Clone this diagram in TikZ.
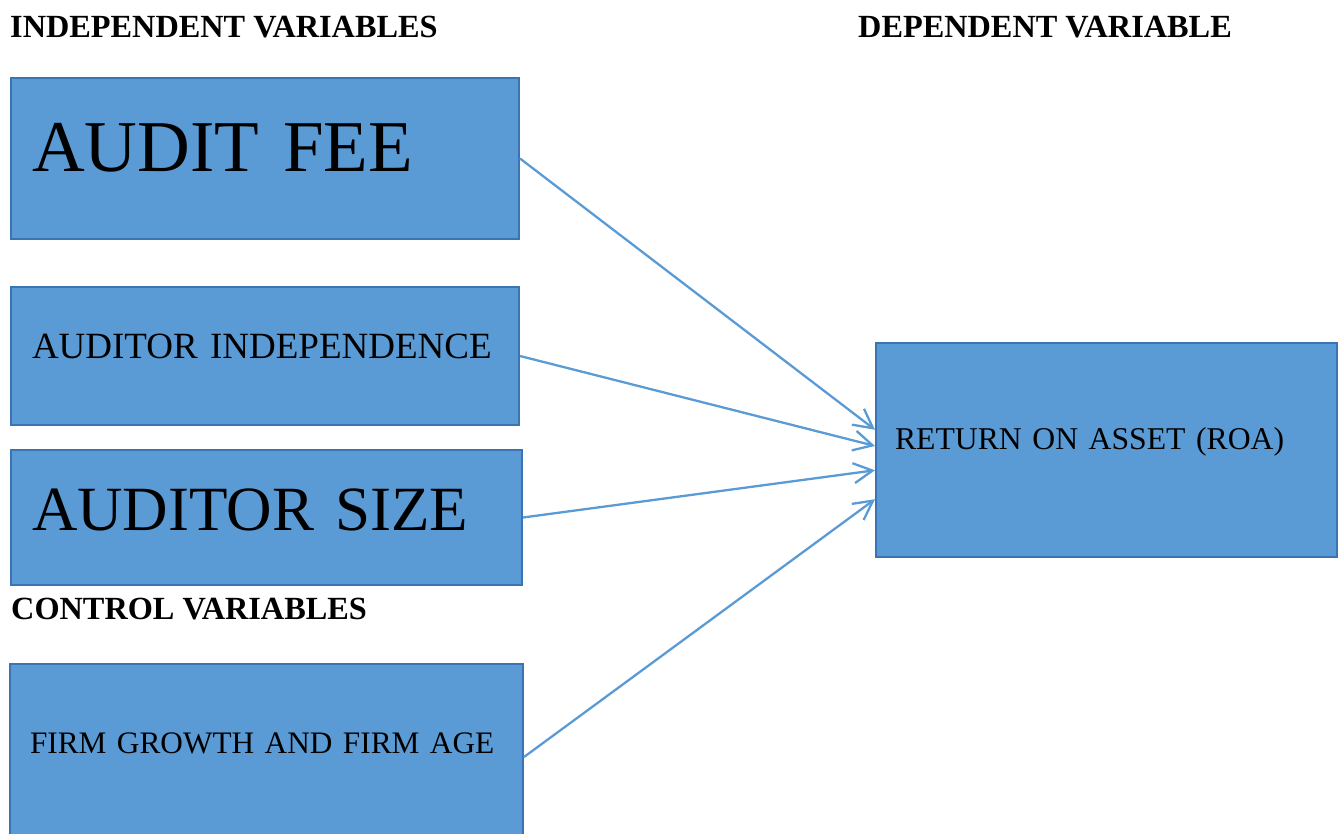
\documentclass[tikz,border=0pt]{standalone}
\usepackage{fontspec}
\setmainfont{Liberation Serif}
\usepackage{tikz}
\usetikzlibrary{arrows.meta}
\definecolor{boxfill}{HTML}{5B9BD5}
\definecolor{boxedge}{HTML}{3A74B4}

\begin{document}
\begin{tikzpicture}[x=1pt,y=-1pt,
    varbox/.style={draw=boxedge, fill=boxfill, line width=2pt, anchor=north west, inner ysep=0pt, align=left},
    heading/.style={anchor=base west, inner sep=0pt, font=\fontsize{32.3}{34}\selectfont\bfseries},
    link/.style={draw=boxfill, line width=2.3pt, -{Straight Barb[length=19pt,width=20pt]}}]
  \useasboundingbox (0,0) rectangle (1341,833);
  \clip (0,0) rectangle (1341,833);
  % Headings
  \node[heading] (indephead) at (10,37) {INDEPENDENT VARIABLES};
  \node[heading] (dephead) at (858,37) {DEPENDENT VARIABLE};
  \node[heading] (ctrlhead) at (11,619) {CONTROL VARIABLES};
  % Independent variables
  \node[varbox, minimum width=508pt, minimum height=161pt, inner xsep=21pt, text width=466pt,
        text height=48pt, text depth=22pt, font=\fontsize{73}{80}\selectfont] (fee) at (10,77) {AUDIT FEE};
  \node[varbox, minimum width=508pt, minimum height=138pt, inner xsep=21pt, text width=466pt,
        text height=24pt, text depth=19pt, font=\fontsize{37}{40}\selectfont] (indep) at (10,286) {AUDITOR INDEPENDENCE};
  \node[varbox, minimum width=511pt, minimum height=135pt, inner xsep=21pt, text width=469pt,
        text height=41pt, text depth=15pt, font=\fontsize{63}{70}\selectfont] (size) at (10,449) {AUDITOR SIZE};
  % Control variables
  \node[varbox, minimum width=513pt, minimum height=186pt, inner xsep=20pt, text width=473pt,
        text height=21pt, text depth=29pt, font=\fontsize{31.3}{36}\selectfont] (firm) at (9,663) {FIRM GROWTH AND FIRM AGE};
  % Dependent variable
  \node[varbox, minimum width=461pt, minimum height=214pt, inner xsep=19pt, text width=423pt,
        text height=21pt, text depth=22pt, font=\fontsize{31.7}{36}\selectfont] (roa) at (875,342) {RETURN ON ASSET (ROA)};
  % Links
  \draw[link] (fee.east) -- (roa.175);
  \draw[link] (indep.east) -- (roa.179.5);
  \draw[link] (size.east) -- (roa.185);
  \draw[link] (firm.east) -- (roa.192.5);
\end{tikzpicture}
\end{document}
